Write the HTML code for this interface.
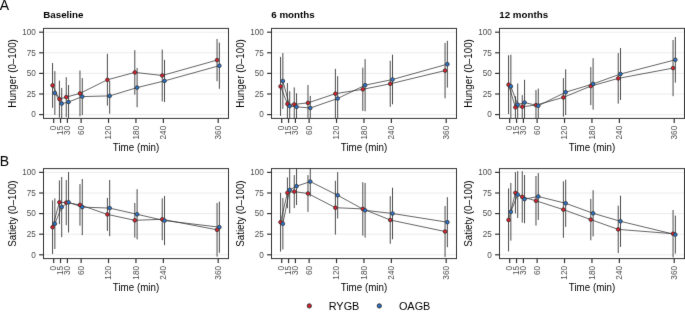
<!DOCTYPE html>
<html><head><meta charset="utf-8"><style>
html,body{margin:0;padding:0;background:#fff;}
body{width:685px;height:318px;overflow:hidden;}
svg{display:block;will-change:transform;font-family:"Liberation Sans",sans-serif;}
.yt{font-size:8.2px;fill:#4d4d4d;text-anchor:end;}
.xt{font-size:8.2px;fill:#4d4d4d;text-anchor:end;}
.at{font-size:9.8px;fill:#000;}
.tt{font-size:9.75px;font-weight:bold;fill:#000;}
.lg{font-size:10.9px;fill:#000;}
.tag{font-size:14px;fill:#000;}
</style></head><body>
<svg width="685" height="318" viewBox="0 0 685 318">
<defs><filter id="bl" x="0" y="0" width="1" height="1" color-interpolation-filters="sRGB"><feConvolveMatrix order="3" kernelMatrix="0.00524 0.06192 0.00524 0.06192 0.73137 0.06192 0.00524 0.06192 0.00524" divisor="1" edgeMode="duplicate"/></filter></defs>
<g filter="url(#bl)">
<rect width="685" height="318" fill="#fff"/>
<clipPath id="c00"><rect x="43.5" y="28.4" width="185" height="90"/></clipPath>
<line x1="43.5" x2="228.5" y1="114.6" y2="114.6" stroke="#ebebeb" stroke-width="1"/>
<line x1="43.5" x2="228.5" y1="94" y2="94" stroke="#ebebeb" stroke-width="1"/>
<line x1="43.5" x2="228.5" y1="73.4" y2="73.4" stroke="#ebebeb" stroke-width="1"/>
<line x1="43.5" x2="228.5" y1="52.8" y2="52.8" stroke="#ebebeb" stroke-width="1"/>
<line x1="43.5" x2="228.5" y1="32.2" y2="32.2" stroke="#ebebeb" stroke-width="1"/>
<g clip-path="url(#c00)">
<polyline points="52.55,85.4 59.4,99.1 66.26,97.1 79.97,93.4 107.38,79.8 134.8,72.4 162.22,75.5 217.05,60.1" fill="none" stroke="#333333" stroke-width="0.75"/>
<polyline points="54.85,93 61.7,103.6 68.56,102 82.27,96.6 109.68,95.9 137.1,87.6 164.52,80.9 219.35,65.7" fill="none" stroke="#333333" stroke-width="0.75"/>
<line x1="52.55" x2="52.55" y1="63" y2="107.8" stroke="#2b2b2b" stroke-width="0.85"/>
<line x1="59.4" x2="59.4" y1="80.6" y2="117.6" stroke="#2b2b2b" stroke-width="0.85"/>
<line x1="66.26" x2="66.26" y1="77.2" y2="117" stroke="#2b2b2b" stroke-width="0.85"/>
<line x1="79.97" x2="79.97" y1="70.5" y2="116.3" stroke="#2b2b2b" stroke-width="0.85"/>
<line x1="107.38" x2="107.38" y1="53.8" y2="105.7" stroke="#2b2b2b" stroke-width="0.85"/>
<line x1="134.8" x2="134.8" y1="50.2" y2="94.6" stroke="#2b2b2b" stroke-width="0.85"/>
<line x1="162.22" x2="162.22" y1="49.6" y2="101.4" stroke="#2b2b2b" stroke-width="0.85"/>
<line x1="217.05" x2="217.05" y1="39" y2="81.2" stroke="#2b2b2b" stroke-width="0.85"/>
<line x1="54.85" x2="54.85" y1="71.1" y2="114.9" stroke="#2b2b2b" stroke-width="0.85"/>
<line x1="61.7" x2="61.7" y1="87.9" y2="119.3" stroke="#2b2b2b" stroke-width="0.85"/>
<line x1="68.56" x2="68.56" y1="85" y2="119" stroke="#2b2b2b" stroke-width="0.85"/>
<line x1="82.27" x2="82.27" y1="78.1" y2="115.1" stroke="#2b2b2b" stroke-width="0.85"/>
<line x1="109.68" x2="109.68" y1="80.8" y2="113.7" stroke="#2b2b2b" stroke-width="0.85"/>
<line x1="137.1" x2="137.1" y1="68" y2="107.2" stroke="#2b2b2b" stroke-width="0.85"/>
<line x1="164.52" x2="164.52" y1="59.8" y2="102" stroke="#2b2b2b" stroke-width="0.85"/>
<line x1="219.35" x2="219.35" y1="42.6" y2="88.8" stroke="#2b2b2b" stroke-width="0.85"/>
<circle cx="52.55" cy="85.4" r="1.85" fill="#dc1e2b" stroke="#333333" stroke-width="0.8"/>
<circle cx="59.4" cy="99.1" r="1.85" fill="#dc1e2b" stroke="#333333" stroke-width="0.8"/>
<circle cx="66.26" cy="97.1" r="1.85" fill="#dc1e2b" stroke="#333333" stroke-width="0.8"/>
<circle cx="79.97" cy="93.4" r="1.85" fill="#dc1e2b" stroke="#333333" stroke-width="0.8"/>
<circle cx="107.38" cy="79.8" r="1.85" fill="#dc1e2b" stroke="#333333" stroke-width="0.8"/>
<circle cx="134.8" cy="72.4" r="1.85" fill="#dc1e2b" stroke="#333333" stroke-width="0.8"/>
<circle cx="162.22" cy="75.5" r="1.85" fill="#dc1e2b" stroke="#333333" stroke-width="0.8"/>
<circle cx="217.05" cy="60.1" r="1.85" fill="#dc1e2b" stroke="#333333" stroke-width="0.8"/>
<circle cx="54.85" cy="93" r="1.85" fill="#2b74cc" stroke="#333333" stroke-width="0.8"/>
<circle cx="61.7" cy="103.6" r="1.85" fill="#2b74cc" stroke="#333333" stroke-width="0.8"/>
<circle cx="68.56" cy="102" r="1.85" fill="#2b74cc" stroke="#333333" stroke-width="0.8"/>
<circle cx="82.27" cy="96.6" r="1.85" fill="#2b74cc" stroke="#333333" stroke-width="0.8"/>
<circle cx="109.68" cy="95.9" r="1.85" fill="#2b74cc" stroke="#333333" stroke-width="0.8"/>
<circle cx="137.1" cy="87.6" r="1.85" fill="#2b74cc" stroke="#333333" stroke-width="0.8"/>
<circle cx="164.52" cy="80.9" r="1.85" fill="#2b74cc" stroke="#333333" stroke-width="0.8"/>
<circle cx="219.35" cy="65.7" r="1.85" fill="#2b74cc" stroke="#333333" stroke-width="0.8"/>
</g>
<rect x="43.5" y="28.4" width="185" height="90" fill="none" stroke="#333333" stroke-width="1"/>
<line x1="39.1" x2="43.5" y1="114.6" y2="114.6" stroke="#333333" stroke-width="1.2"/>
<text transform="translate(35.9,117.45)" class="yt">0</text>
<line x1="39.1" x2="43.5" y1="94" y2="94" stroke="#333333" stroke-width="1.2"/>
<text transform="translate(35.9,96.85)" class="yt">25</text>
<line x1="39.1" x2="43.5" y1="73.4" y2="73.4" stroke="#333333" stroke-width="1.2"/>
<text transform="translate(35.9,76.25)" class="yt">50</text>
<line x1="39.1" x2="43.5" y1="52.8" y2="52.8" stroke="#333333" stroke-width="1.2"/>
<text transform="translate(35.9,55.65)" class="yt">75</text>
<line x1="39.1" x2="43.5" y1="32.2" y2="32.2" stroke="#333333" stroke-width="1.2"/>
<text transform="translate(35.9,35.05)" class="yt">100</text>
<line x1="53.7" x2="53.7" y1="118.4" y2="122.9" stroke="#333333" stroke-width="1.2"/>
<text transform="translate(56.3,125.8) rotate(-90)" class="xt">0</text>
<line x1="60.55" x2="60.55" y1="118.4" y2="122.9" stroke="#333333" stroke-width="1.2"/>
<text transform="translate(63.15,125.8) rotate(-90)" class="xt">15</text>
<line x1="67.41" x2="67.41" y1="118.4" y2="122.9" stroke="#333333" stroke-width="1.2"/>
<text transform="translate(70.01,125.8) rotate(-90)" class="xt">30</text>
<line x1="81.12" x2="81.12" y1="118.4" y2="122.9" stroke="#333333" stroke-width="1.2"/>
<text transform="translate(83.72,125.8) rotate(-90)" class="xt">60</text>
<line x1="108.53" x2="108.53" y1="118.4" y2="122.9" stroke="#333333" stroke-width="1.2"/>
<text transform="translate(111.13,125.8) rotate(-90)" class="xt">120</text>
<line x1="135.95" x2="135.95" y1="118.4" y2="122.9" stroke="#333333" stroke-width="1.2"/>
<text transform="translate(138.55,125.8) rotate(-90)" class="xt">180</text>
<line x1="163.37" x2="163.37" y1="118.4" y2="122.9" stroke="#333333" stroke-width="1.2"/>
<text transform="translate(165.97,125.8) rotate(-90)" class="xt">240</text>
<line x1="218.2" x2="218.2" y1="118.4" y2="122.9" stroke="#333333" stroke-width="1.2"/>
<text transform="translate(220.8,125.8) rotate(-90)" class="xt">360</text>
<text transform="translate(136,150.5) scale(1,1.04)" class="at" text-anchor="middle">Time (min)</text>
<text transform="translate(16,73.4) rotate(-90) scale(1,1.04)" class="at" text-anchor="middle">Hunger (0–100)</text>
<text transform="translate(43.3,17.8)" class="tt">Baseline</text>
<clipPath id="c01"><rect x="271.5" y="28.4" width="185" height="90"/></clipPath>
<line x1="271.5" x2="456.5" y1="114.6" y2="114.6" stroke="#ebebeb" stroke-width="1"/>
<line x1="271.5" x2="456.5" y1="94" y2="94" stroke="#ebebeb" stroke-width="1"/>
<line x1="271.5" x2="456.5" y1="73.4" y2="73.4" stroke="#ebebeb" stroke-width="1"/>
<line x1="271.5" x2="456.5" y1="52.8" y2="52.8" stroke="#ebebeb" stroke-width="1"/>
<line x1="271.5" x2="456.5" y1="32.2" y2="32.2" stroke="#ebebeb" stroke-width="1"/>
<g clip-path="url(#c01)">
<polyline points="280.55,86.4 287.4,103.9 294.26,104.4 307.97,102.9 335.38,93.7 362.8,89.3 390.22,83.8 445.05,70.6" fill="none" stroke="#333333" stroke-width="0.75"/>
<polyline points="282.85,81 289.7,106.1 296.56,106.8 310.27,108 337.68,98.5 365.1,85.2 392.52,79.5 447.35,64.2" fill="none" stroke="#333333" stroke-width="0.75"/>
<line x1="280.55" x2="280.55" y1="56.9" y2="115.9" stroke="#2b2b2b" stroke-width="0.85"/>
<line x1="287.4" x2="287.4" y1="83" y2="124.8" stroke="#2b2b2b" stroke-width="0.85"/>
<line x1="294.26" x2="294.26" y1="87.4" y2="121.4" stroke="#2b2b2b" stroke-width="0.85"/>
<line x1="307.97" x2="307.97" y1="85" y2="120.8" stroke="#2b2b2b" stroke-width="0.85"/>
<line x1="335.38" x2="335.38" y1="68.9" y2="118.5" stroke="#2b2b2b" stroke-width="0.85"/>
<line x1="362.8" x2="362.8" y1="67.7" y2="110.9" stroke="#2b2b2b" stroke-width="0.85"/>
<line x1="390.22" x2="390.22" y1="60.8" y2="106.8" stroke="#2b2b2b" stroke-width="0.85"/>
<line x1="445.05" x2="445.05" y1="42.9" y2="98.3" stroke="#2b2b2b" stroke-width="0.85"/>
<line x1="282.85" x2="282.85" y1="53.1" y2="108.9" stroke="#2b2b2b" stroke-width="0.85"/>
<line x1="289.7" x2="289.7" y1="91.2" y2="121" stroke="#2b2b2b" stroke-width="0.85"/>
<line x1="296.56" x2="296.56" y1="93.3" y2="120.3" stroke="#2b2b2b" stroke-width="0.85"/>
<line x1="310.27" x2="310.27" y1="95.9" y2="120.1" stroke="#2b2b2b" stroke-width="0.85"/>
<line x1="337.68" x2="337.68" y1="76.2" y2="120.8" stroke="#2b2b2b" stroke-width="0.85"/>
<line x1="365.1" x2="365.1" y1="59.1" y2="111.3" stroke="#2b2b2b" stroke-width="0.85"/>
<line x1="392.52" x2="392.52" y1="54.7" y2="104.3" stroke="#2b2b2b" stroke-width="0.85"/>
<line x1="447.35" x2="447.35" y1="40.8" y2="87.6" stroke="#2b2b2b" stroke-width="0.85"/>
<circle cx="280.55" cy="86.4" r="1.85" fill="#dc1e2b" stroke="#333333" stroke-width="0.8"/>
<circle cx="287.4" cy="103.9" r="1.85" fill="#dc1e2b" stroke="#333333" stroke-width="0.8"/>
<circle cx="294.26" cy="104.4" r="1.85" fill="#dc1e2b" stroke="#333333" stroke-width="0.8"/>
<circle cx="307.97" cy="102.9" r="1.85" fill="#dc1e2b" stroke="#333333" stroke-width="0.8"/>
<circle cx="335.38" cy="93.7" r="1.85" fill="#dc1e2b" stroke="#333333" stroke-width="0.8"/>
<circle cx="362.8" cy="89.3" r="1.85" fill="#dc1e2b" stroke="#333333" stroke-width="0.8"/>
<circle cx="390.22" cy="83.8" r="1.85" fill="#dc1e2b" stroke="#333333" stroke-width="0.8"/>
<circle cx="445.05" cy="70.6" r="1.85" fill="#dc1e2b" stroke="#333333" stroke-width="0.8"/>
<circle cx="282.85" cy="81" r="1.85" fill="#2b74cc" stroke="#333333" stroke-width="0.8"/>
<circle cx="289.7" cy="106.1" r="1.85" fill="#2b74cc" stroke="#333333" stroke-width="0.8"/>
<circle cx="296.56" cy="106.8" r="1.85" fill="#2b74cc" stroke="#333333" stroke-width="0.8"/>
<circle cx="310.27" cy="108" r="1.85" fill="#2b74cc" stroke="#333333" stroke-width="0.8"/>
<circle cx="337.68" cy="98.5" r="1.85" fill="#2b74cc" stroke="#333333" stroke-width="0.8"/>
<circle cx="365.1" cy="85.2" r="1.85" fill="#2b74cc" stroke="#333333" stroke-width="0.8"/>
<circle cx="392.52" cy="79.5" r="1.85" fill="#2b74cc" stroke="#333333" stroke-width="0.8"/>
<circle cx="447.35" cy="64.2" r="1.85" fill="#2b74cc" stroke="#333333" stroke-width="0.8"/>
</g>
<rect x="271.5" y="28.4" width="185" height="90" fill="none" stroke="#333333" stroke-width="1"/>
<line x1="267.1" x2="271.5" y1="114.6" y2="114.6" stroke="#333333" stroke-width="1.2"/>
<text transform="translate(263.9,117.45)" class="yt">0</text>
<line x1="267.1" x2="271.5" y1="94" y2="94" stroke="#333333" stroke-width="1.2"/>
<text transform="translate(263.9,96.85)" class="yt">25</text>
<line x1="267.1" x2="271.5" y1="73.4" y2="73.4" stroke="#333333" stroke-width="1.2"/>
<text transform="translate(263.9,76.25)" class="yt">50</text>
<line x1="267.1" x2="271.5" y1="52.8" y2="52.8" stroke="#333333" stroke-width="1.2"/>
<text transform="translate(263.9,55.65)" class="yt">75</text>
<line x1="267.1" x2="271.5" y1="32.2" y2="32.2" stroke="#333333" stroke-width="1.2"/>
<text transform="translate(263.9,35.05)" class="yt">100</text>
<line x1="281.7" x2="281.7" y1="118.4" y2="122.9" stroke="#333333" stroke-width="1.2"/>
<text transform="translate(284.3,125.8) rotate(-90)" class="xt">0</text>
<line x1="288.55" x2="288.55" y1="118.4" y2="122.9" stroke="#333333" stroke-width="1.2"/>
<text transform="translate(291.15,125.8) rotate(-90)" class="xt">15</text>
<line x1="295.41" x2="295.41" y1="118.4" y2="122.9" stroke="#333333" stroke-width="1.2"/>
<text transform="translate(298.01,125.8) rotate(-90)" class="xt">30</text>
<line x1="309.12" x2="309.12" y1="118.4" y2="122.9" stroke="#333333" stroke-width="1.2"/>
<text transform="translate(311.72,125.8) rotate(-90)" class="xt">60</text>
<line x1="336.53" x2="336.53" y1="118.4" y2="122.9" stroke="#333333" stroke-width="1.2"/>
<text transform="translate(339.13,125.8) rotate(-90)" class="xt">120</text>
<line x1="363.95" x2="363.95" y1="118.4" y2="122.9" stroke="#333333" stroke-width="1.2"/>
<text transform="translate(366.55,125.8) rotate(-90)" class="xt">180</text>
<line x1="391.37" x2="391.37" y1="118.4" y2="122.9" stroke="#333333" stroke-width="1.2"/>
<text transform="translate(393.97,125.8) rotate(-90)" class="xt">240</text>
<line x1="446.2" x2="446.2" y1="118.4" y2="122.9" stroke="#333333" stroke-width="1.2"/>
<text transform="translate(448.8,125.8) rotate(-90)" class="xt">360</text>
<text transform="translate(364,150.5) scale(1,1.04)" class="at" text-anchor="middle">Time (min)</text>
<text transform="translate(244,73.4) rotate(-90) scale(1,1.04)" class="at" text-anchor="middle">Hunger (0–100)</text>
<text transform="translate(271.3,17.8)" class="tt">6 months</text>
<clipPath id="c02"><rect x="499.5" y="28.4" width="185" height="90"/></clipPath>
<line x1="499.5" x2="684.5" y1="114.6" y2="114.6" stroke="#ebebeb" stroke-width="1"/>
<line x1="499.5" x2="684.5" y1="94" y2="94" stroke="#ebebeb" stroke-width="1"/>
<line x1="499.5" x2="684.5" y1="73.4" y2="73.4" stroke="#ebebeb" stroke-width="1"/>
<line x1="499.5" x2="684.5" y1="52.8" y2="52.8" stroke="#ebebeb" stroke-width="1"/>
<line x1="499.5" x2="684.5" y1="32.2" y2="32.2" stroke="#ebebeb" stroke-width="1"/>
<g clip-path="url(#c02)">
<polyline points="508.55,84.7 515.4,107.3 522.26,106.7 535.97,105.1 563.38,97.4 590.8,86.1 618.22,78.4 673.05,68.1" fill="none" stroke="#333333" stroke-width="0.75"/>
<polyline points="510.85,86.4 517.7,104.7 524.56,102.5 538.27,105.8 565.68,92.2 593.1,83.9 620.52,74 675.35,59.8" fill="none" stroke="#333333" stroke-width="0.75"/>
<line x1="508.55" x2="508.55" y1="55.3" y2="114.1" stroke="#2b2b2b" stroke-width="0.85"/>
<line x1="515.4" x2="515.4" y1="96.2" y2="118.4" stroke="#2b2b2b" stroke-width="0.85"/>
<line x1="522.26" x2="522.26" y1="95.2" y2="118.2" stroke="#2b2b2b" stroke-width="0.85"/>
<line x1="535.97" x2="535.97" y1="90.1" y2="120.1" stroke="#2b2b2b" stroke-width="0.85"/>
<line x1="563.38" x2="563.38" y1="78.1" y2="116.7" stroke="#2b2b2b" stroke-width="0.85"/>
<line x1="590.8" x2="590.8" y1="67.1" y2="105.1" stroke="#2b2b2b" stroke-width="0.85"/>
<line x1="618.22" x2="618.22" y1="53.1" y2="103.7" stroke="#2b2b2b" stroke-width="0.85"/>
<line x1="673.05" x2="673.05" y1="40" y2="96.2" stroke="#2b2b2b" stroke-width="0.85"/>
<line x1="510.85" x2="510.85" y1="54.7" y2="118.1" stroke="#2b2b2b" stroke-width="0.85"/>
<line x1="517.7" x2="517.7" y1="83.5" y2="125.9" stroke="#2b2b2b" stroke-width="0.85"/>
<line x1="524.56" x2="524.56" y1="79.8" y2="125.2" stroke="#2b2b2b" stroke-width="0.85"/>
<line x1="538.27" x2="538.27" y1="88.6" y2="123" stroke="#2b2b2b" stroke-width="0.85"/>
<line x1="565.68" x2="565.68" y1="69.3" y2="115.1" stroke="#2b2b2b" stroke-width="0.85"/>
<line x1="593.1" x2="593.1" y1="58.2" y2="109.6" stroke="#2b2b2b" stroke-width="0.85"/>
<line x1="620.52" x2="620.52" y1="48" y2="100" stroke="#2b2b2b" stroke-width="0.85"/>
<line x1="675.35" x2="675.35" y1="37" y2="82.6" stroke="#2b2b2b" stroke-width="0.85"/>
<circle cx="508.55" cy="84.7" r="1.85" fill="#dc1e2b" stroke="#333333" stroke-width="0.8"/>
<circle cx="515.4" cy="107.3" r="1.85" fill="#dc1e2b" stroke="#333333" stroke-width="0.8"/>
<circle cx="522.26" cy="106.7" r="1.85" fill="#dc1e2b" stroke="#333333" stroke-width="0.8"/>
<circle cx="535.97" cy="105.1" r="1.85" fill="#dc1e2b" stroke="#333333" stroke-width="0.8"/>
<circle cx="563.38" cy="97.4" r="1.85" fill="#dc1e2b" stroke="#333333" stroke-width="0.8"/>
<circle cx="590.8" cy="86.1" r="1.85" fill="#dc1e2b" stroke="#333333" stroke-width="0.8"/>
<circle cx="618.22" cy="78.4" r="1.85" fill="#dc1e2b" stroke="#333333" stroke-width="0.8"/>
<circle cx="673.05" cy="68.1" r="1.85" fill="#dc1e2b" stroke="#333333" stroke-width="0.8"/>
<circle cx="510.85" cy="86.4" r="1.85" fill="#2b74cc" stroke="#333333" stroke-width="0.8"/>
<circle cx="517.7" cy="104.7" r="1.85" fill="#2b74cc" stroke="#333333" stroke-width="0.8"/>
<circle cx="524.56" cy="102.5" r="1.85" fill="#2b74cc" stroke="#333333" stroke-width="0.8"/>
<circle cx="538.27" cy="105.8" r="1.85" fill="#2b74cc" stroke="#333333" stroke-width="0.8"/>
<circle cx="565.68" cy="92.2" r="1.85" fill="#2b74cc" stroke="#333333" stroke-width="0.8"/>
<circle cx="593.1" cy="83.9" r="1.85" fill="#2b74cc" stroke="#333333" stroke-width="0.8"/>
<circle cx="620.52" cy="74" r="1.85" fill="#2b74cc" stroke="#333333" stroke-width="0.8"/>
<circle cx="675.35" cy="59.8" r="1.85" fill="#2b74cc" stroke="#333333" stroke-width="0.8"/>
</g>
<rect x="499.5" y="28.4" width="185" height="90" fill="none" stroke="#333333" stroke-width="1"/>
<line x1="495.1" x2="499.5" y1="114.6" y2="114.6" stroke="#333333" stroke-width="1.2"/>
<text transform="translate(491.9,117.45)" class="yt">0</text>
<line x1="495.1" x2="499.5" y1="94" y2="94" stroke="#333333" stroke-width="1.2"/>
<text transform="translate(491.9,96.85)" class="yt">25</text>
<line x1="495.1" x2="499.5" y1="73.4" y2="73.4" stroke="#333333" stroke-width="1.2"/>
<text transform="translate(491.9,76.25)" class="yt">50</text>
<line x1="495.1" x2="499.5" y1="52.8" y2="52.8" stroke="#333333" stroke-width="1.2"/>
<text transform="translate(491.9,55.65)" class="yt">75</text>
<line x1="495.1" x2="499.5" y1="32.2" y2="32.2" stroke="#333333" stroke-width="1.2"/>
<text transform="translate(491.9,35.05)" class="yt">100</text>
<line x1="509.7" x2="509.7" y1="118.4" y2="122.9" stroke="#333333" stroke-width="1.2"/>
<text transform="translate(512.3,125.8) rotate(-90)" class="xt">0</text>
<line x1="516.55" x2="516.55" y1="118.4" y2="122.9" stroke="#333333" stroke-width="1.2"/>
<text transform="translate(519.15,125.8) rotate(-90)" class="xt">15</text>
<line x1="523.41" x2="523.41" y1="118.4" y2="122.9" stroke="#333333" stroke-width="1.2"/>
<text transform="translate(526.01,125.8) rotate(-90)" class="xt">30</text>
<line x1="537.12" x2="537.12" y1="118.4" y2="122.9" stroke="#333333" stroke-width="1.2"/>
<text transform="translate(539.72,125.8) rotate(-90)" class="xt">60</text>
<line x1="564.53" x2="564.53" y1="118.4" y2="122.9" stroke="#333333" stroke-width="1.2"/>
<text transform="translate(567.13,125.8) rotate(-90)" class="xt">120</text>
<line x1="591.95" x2="591.95" y1="118.4" y2="122.9" stroke="#333333" stroke-width="1.2"/>
<text transform="translate(594.55,125.8) rotate(-90)" class="xt">180</text>
<line x1="619.37" x2="619.37" y1="118.4" y2="122.9" stroke="#333333" stroke-width="1.2"/>
<text transform="translate(621.97,125.8) rotate(-90)" class="xt">240</text>
<line x1="674.2" x2="674.2" y1="118.4" y2="122.9" stroke="#333333" stroke-width="1.2"/>
<text transform="translate(676.8,125.8) rotate(-90)" class="xt">360</text>
<text transform="translate(592,150.5) scale(1,1.04)" class="at" text-anchor="middle">Time (min)</text>
<text transform="translate(472,73.4) rotate(-90) scale(1,1.04)" class="at" text-anchor="middle">Hunger (0–100)</text>
<text transform="translate(499.3,17.8)" class="tt">12 months</text>
<clipPath id="c10"><rect x="43.5" y="168.6" width="185" height="90"/></clipPath>
<line x1="43.5" x2="228.5" y1="254.8" y2="254.8" stroke="#ebebeb" stroke-width="1"/>
<line x1="43.5" x2="228.5" y1="234.2" y2="234.2" stroke="#ebebeb" stroke-width="1"/>
<line x1="43.5" x2="228.5" y1="213.6" y2="213.6" stroke="#ebebeb" stroke-width="1"/>
<line x1="43.5" x2="228.5" y1="193" y2="193" stroke="#ebebeb" stroke-width="1"/>
<line x1="43.5" x2="228.5" y1="172.4" y2="172.4" stroke="#ebebeb" stroke-width="1"/>
<g clip-path="url(#c10)">
<polyline points="52.55,227.2 59.4,202.3 66.26,202.6 79.97,204.9 107.38,214.4 134.8,220.3 162.22,219.3 217.05,229.8" fill="none" stroke="#333333" stroke-width="0.75"/>
<polyline points="54.85,223.7 61.7,207.1 68.56,202.3 82.27,207.1 109.68,208.1 137.1,214.3 164.52,220.6 219.35,227.2" fill="none" stroke="#333333" stroke-width="0.75"/>
<line x1="52.55" x2="52.55" y1="200.4" y2="254" stroke="#2b2b2b" stroke-width="0.85"/>
<line x1="59.4" x2="59.4" y1="180.4" y2="224.2" stroke="#2b2b2b" stroke-width="0.85"/>
<line x1="66.26" x2="66.26" y1="180" y2="225.2" stroke="#2b2b2b" stroke-width="0.85"/>
<line x1="79.97" x2="79.97" y1="184.1" y2="225.7" stroke="#2b2b2b" stroke-width="0.85"/>
<line x1="107.38" x2="107.38" y1="197.9" y2="230.9" stroke="#2b2b2b" stroke-width="0.85"/>
<line x1="134.8" x2="134.8" y1="203" y2="237.6" stroke="#2b2b2b" stroke-width="0.85"/>
<line x1="162.22" x2="162.22" y1="198.4" y2="240.2" stroke="#2b2b2b" stroke-width="0.85"/>
<line x1="217.05" x2="217.05" y1="203" y2="256.6" stroke="#2b2b2b" stroke-width="0.85"/>
<line x1="54.85" x2="54.85" y1="198.4" y2="249" stroke="#2b2b2b" stroke-width="0.85"/>
<line x1="61.7" x2="61.7" y1="177" y2="237.2" stroke="#2b2b2b" stroke-width="0.85"/>
<line x1="68.56" x2="68.56" y1="172.1" y2="232.5" stroke="#2b2b2b" stroke-width="0.85"/>
<line x1="82.27" x2="82.27" y1="179" y2="235.2" stroke="#2b2b2b" stroke-width="0.85"/>
<line x1="109.68" x2="109.68" y1="180" y2="236.2" stroke="#2b2b2b" stroke-width="0.85"/>
<line x1="137.1" x2="137.1" y1="189.2" y2="239.4" stroke="#2b2b2b" stroke-width="0.85"/>
<line x1="164.52" x2="164.52" y1="196" y2="245.2" stroke="#2b2b2b" stroke-width="0.85"/>
<line x1="219.35" x2="219.35" y1="201.6" y2="252.8" stroke="#2b2b2b" stroke-width="0.85"/>
<circle cx="52.55" cy="227.2" r="1.85" fill="#dc1e2b" stroke="#333333" stroke-width="0.8"/>
<circle cx="59.4" cy="202.3" r="1.85" fill="#dc1e2b" stroke="#333333" stroke-width="0.8"/>
<circle cx="66.26" cy="202.6" r="1.85" fill="#dc1e2b" stroke="#333333" stroke-width="0.8"/>
<circle cx="79.97" cy="204.9" r="1.85" fill="#dc1e2b" stroke="#333333" stroke-width="0.8"/>
<circle cx="107.38" cy="214.4" r="1.85" fill="#dc1e2b" stroke="#333333" stroke-width="0.8"/>
<circle cx="134.8" cy="220.3" r="1.85" fill="#dc1e2b" stroke="#333333" stroke-width="0.8"/>
<circle cx="162.22" cy="219.3" r="1.85" fill="#dc1e2b" stroke="#333333" stroke-width="0.8"/>
<circle cx="217.05" cy="229.8" r="1.85" fill="#dc1e2b" stroke="#333333" stroke-width="0.8"/>
<circle cx="54.85" cy="223.7" r="1.85" fill="#2b74cc" stroke="#333333" stroke-width="0.8"/>
<circle cx="61.7" cy="207.1" r="1.85" fill="#2b74cc" stroke="#333333" stroke-width="0.8"/>
<circle cx="68.56" cy="202.3" r="1.85" fill="#2b74cc" stroke="#333333" stroke-width="0.8"/>
<circle cx="82.27" cy="207.1" r="1.85" fill="#2b74cc" stroke="#333333" stroke-width="0.8"/>
<circle cx="109.68" cy="208.1" r="1.85" fill="#2b74cc" stroke="#333333" stroke-width="0.8"/>
<circle cx="137.1" cy="214.3" r="1.85" fill="#2b74cc" stroke="#333333" stroke-width="0.8"/>
<circle cx="164.52" cy="220.6" r="1.85" fill="#2b74cc" stroke="#333333" stroke-width="0.8"/>
<circle cx="219.35" cy="227.2" r="1.85" fill="#2b74cc" stroke="#333333" stroke-width="0.8"/>
</g>
<rect x="43.5" y="168.6" width="185" height="90" fill="none" stroke="#333333" stroke-width="1"/>
<line x1="39.1" x2="43.5" y1="254.8" y2="254.8" stroke="#333333" stroke-width="1.2"/>
<text transform="translate(35.9,257.65)" class="yt">0</text>
<line x1="39.1" x2="43.5" y1="234.2" y2="234.2" stroke="#333333" stroke-width="1.2"/>
<text transform="translate(35.9,237.05)" class="yt">25</text>
<line x1="39.1" x2="43.5" y1="213.6" y2="213.6" stroke="#333333" stroke-width="1.2"/>
<text transform="translate(35.9,216.45)" class="yt">50</text>
<line x1="39.1" x2="43.5" y1="193" y2="193" stroke="#333333" stroke-width="1.2"/>
<text transform="translate(35.9,195.85)" class="yt">75</text>
<line x1="39.1" x2="43.5" y1="172.4" y2="172.4" stroke="#333333" stroke-width="1.2"/>
<text transform="translate(35.9,175.25)" class="yt">100</text>
<line x1="53.7" x2="53.7" y1="258.6" y2="263.1" stroke="#333333" stroke-width="1.2"/>
<text transform="translate(56.3,266) rotate(-90)" class="xt">0</text>
<line x1="60.55" x2="60.55" y1="258.6" y2="263.1" stroke="#333333" stroke-width="1.2"/>
<text transform="translate(63.15,266) rotate(-90)" class="xt">15</text>
<line x1="67.41" x2="67.41" y1="258.6" y2="263.1" stroke="#333333" stroke-width="1.2"/>
<text transform="translate(70.01,266) rotate(-90)" class="xt">30</text>
<line x1="81.12" x2="81.12" y1="258.6" y2="263.1" stroke="#333333" stroke-width="1.2"/>
<text transform="translate(83.72,266) rotate(-90)" class="xt">60</text>
<line x1="108.53" x2="108.53" y1="258.6" y2="263.1" stroke="#333333" stroke-width="1.2"/>
<text transform="translate(111.13,266) rotate(-90)" class="xt">120</text>
<line x1="135.95" x2="135.95" y1="258.6" y2="263.1" stroke="#333333" stroke-width="1.2"/>
<text transform="translate(138.55,266) rotate(-90)" class="xt">180</text>
<line x1="163.37" x2="163.37" y1="258.6" y2="263.1" stroke="#333333" stroke-width="1.2"/>
<text transform="translate(165.97,266) rotate(-90)" class="xt">240</text>
<line x1="218.2" x2="218.2" y1="258.6" y2="263.1" stroke="#333333" stroke-width="1.2"/>
<text transform="translate(220.8,266) rotate(-90)" class="xt">360</text>
<text transform="translate(136,291.2) scale(1,1.04)" class="at" text-anchor="middle">Time (min)</text>
<text transform="translate(16,213.6) rotate(-90) scale(1,1.04)" class="at" text-anchor="middle">Satiety (0–100)</text>
<clipPath id="c11"><rect x="271.5" y="168.6" width="185" height="90"/></clipPath>
<line x1="271.5" x2="456.5" y1="254.8" y2="254.8" stroke="#ebebeb" stroke-width="1"/>
<line x1="271.5" x2="456.5" y1="234.2" y2="234.2" stroke="#ebebeb" stroke-width="1"/>
<line x1="271.5" x2="456.5" y1="213.6" y2="213.6" stroke="#ebebeb" stroke-width="1"/>
<line x1="271.5" x2="456.5" y1="193" y2="193" stroke="#ebebeb" stroke-width="1"/>
<line x1="271.5" x2="456.5" y1="172.4" y2="172.4" stroke="#ebebeb" stroke-width="1"/>
<g clip-path="url(#c11)">
<polyline points="280.55,222.2 287.4,192.8 294.26,191.6 307.97,193.5 335.38,207.7 362.8,208.9 390.22,220 445.05,231.5" fill="none" stroke="#333333" stroke-width="0.75"/>
<polyline points="282.85,223.7 289.7,189.9 296.56,186.2 310.27,181.6 337.68,195.3 365.1,210.3 392.52,213.5 447.35,222.2" fill="none" stroke="#333333" stroke-width="0.75"/>
<line x1="280.55" x2="280.55" y1="192.8" y2="251.6" stroke="#2b2b2b" stroke-width="0.85"/>
<line x1="287.4" x2="287.4" y1="177.4" y2="208.2" stroke="#2b2b2b" stroke-width="0.85"/>
<line x1="294.26" x2="294.26" y1="175.1" y2="208.1" stroke="#2b2b2b" stroke-width="0.85"/>
<line x1="307.97" x2="307.97" y1="175.1" y2="211.9" stroke="#2b2b2b" stroke-width="0.85"/>
<line x1="335.38" x2="335.38" y1="180.8" y2="234.6" stroke="#2b2b2b" stroke-width="0.85"/>
<line x1="362.8" x2="362.8" y1="182.2" y2="235.6" stroke="#2b2b2b" stroke-width="0.85"/>
<line x1="390.22" x2="390.22" y1="196.2" y2="243.8" stroke="#2b2b2b" stroke-width="0.85"/>
<line x1="445.05" x2="445.05" y1="206" y2="257" stroke="#2b2b2b" stroke-width="0.85"/>
<line x1="282.85" x2="282.85" y1="197.9" y2="249.5" stroke="#2b2b2b" stroke-width="0.85"/>
<line x1="289.7" x2="289.7" y1="166.5" y2="213.3" stroke="#2b2b2b" stroke-width="0.85"/>
<line x1="296.56" x2="296.56" y1="167.4" y2="205" stroke="#2b2b2b" stroke-width="0.85"/>
<line x1="310.27" x2="310.27" y1="166.6" y2="196.6" stroke="#2b2b2b" stroke-width="0.85"/>
<line x1="337.68" x2="337.68" y1="172.1" y2="218.5" stroke="#2b2b2b" stroke-width="0.85"/>
<line x1="365.1" x2="365.1" y1="183" y2="237.6" stroke="#2b2b2b" stroke-width="0.85"/>
<line x1="392.52" x2="392.52" y1="187.7" y2="239.3" stroke="#2b2b2b" stroke-width="0.85"/>
<line x1="447.35" x2="447.35" y1="197.2" y2="247.2" stroke="#2b2b2b" stroke-width="0.85"/>
<circle cx="280.55" cy="222.2" r="1.85" fill="#dc1e2b" stroke="#333333" stroke-width="0.8"/>
<circle cx="287.4" cy="192.8" r="1.85" fill="#dc1e2b" stroke="#333333" stroke-width="0.8"/>
<circle cx="294.26" cy="191.6" r="1.85" fill="#dc1e2b" stroke="#333333" stroke-width="0.8"/>
<circle cx="307.97" cy="193.5" r="1.85" fill="#dc1e2b" stroke="#333333" stroke-width="0.8"/>
<circle cx="335.38" cy="207.7" r="1.85" fill="#dc1e2b" stroke="#333333" stroke-width="0.8"/>
<circle cx="362.8" cy="208.9" r="1.85" fill="#dc1e2b" stroke="#333333" stroke-width="0.8"/>
<circle cx="390.22" cy="220" r="1.85" fill="#dc1e2b" stroke="#333333" stroke-width="0.8"/>
<circle cx="445.05" cy="231.5" r="1.85" fill="#dc1e2b" stroke="#333333" stroke-width="0.8"/>
<circle cx="282.85" cy="223.7" r="1.85" fill="#2b74cc" stroke="#333333" stroke-width="0.8"/>
<circle cx="289.7" cy="189.9" r="1.85" fill="#2b74cc" stroke="#333333" stroke-width="0.8"/>
<circle cx="296.56" cy="186.2" r="1.85" fill="#2b74cc" stroke="#333333" stroke-width="0.8"/>
<circle cx="310.27" cy="181.6" r="1.85" fill="#2b74cc" stroke="#333333" stroke-width="0.8"/>
<circle cx="337.68" cy="195.3" r="1.85" fill="#2b74cc" stroke="#333333" stroke-width="0.8"/>
<circle cx="365.1" cy="210.3" r="1.85" fill="#2b74cc" stroke="#333333" stroke-width="0.8"/>
<circle cx="392.52" cy="213.5" r="1.85" fill="#2b74cc" stroke="#333333" stroke-width="0.8"/>
<circle cx="447.35" cy="222.2" r="1.85" fill="#2b74cc" stroke="#333333" stroke-width="0.8"/>
</g>
<rect x="271.5" y="168.6" width="185" height="90" fill="none" stroke="#333333" stroke-width="1"/>
<line x1="267.1" x2="271.5" y1="254.8" y2="254.8" stroke="#333333" stroke-width="1.2"/>
<text transform="translate(263.9,257.65)" class="yt">0</text>
<line x1="267.1" x2="271.5" y1="234.2" y2="234.2" stroke="#333333" stroke-width="1.2"/>
<text transform="translate(263.9,237.05)" class="yt">25</text>
<line x1="267.1" x2="271.5" y1="213.6" y2="213.6" stroke="#333333" stroke-width="1.2"/>
<text transform="translate(263.9,216.45)" class="yt">50</text>
<line x1="267.1" x2="271.5" y1="193" y2="193" stroke="#333333" stroke-width="1.2"/>
<text transform="translate(263.9,195.85)" class="yt">75</text>
<line x1="267.1" x2="271.5" y1="172.4" y2="172.4" stroke="#333333" stroke-width="1.2"/>
<text transform="translate(263.9,175.25)" class="yt">100</text>
<line x1="281.7" x2="281.7" y1="258.6" y2="263.1" stroke="#333333" stroke-width="1.2"/>
<text transform="translate(284.3,266) rotate(-90)" class="xt">0</text>
<line x1="288.55" x2="288.55" y1="258.6" y2="263.1" stroke="#333333" stroke-width="1.2"/>
<text transform="translate(291.15,266) rotate(-90)" class="xt">15</text>
<line x1="295.41" x2="295.41" y1="258.6" y2="263.1" stroke="#333333" stroke-width="1.2"/>
<text transform="translate(298.01,266) rotate(-90)" class="xt">30</text>
<line x1="309.12" x2="309.12" y1="258.6" y2="263.1" stroke="#333333" stroke-width="1.2"/>
<text transform="translate(311.72,266) rotate(-90)" class="xt">60</text>
<line x1="336.53" x2="336.53" y1="258.6" y2="263.1" stroke="#333333" stroke-width="1.2"/>
<text transform="translate(339.13,266) rotate(-90)" class="xt">120</text>
<line x1="363.95" x2="363.95" y1="258.6" y2="263.1" stroke="#333333" stroke-width="1.2"/>
<text transform="translate(366.55,266) rotate(-90)" class="xt">180</text>
<line x1="391.37" x2="391.37" y1="258.6" y2="263.1" stroke="#333333" stroke-width="1.2"/>
<text transform="translate(393.97,266) rotate(-90)" class="xt">240</text>
<line x1="446.2" x2="446.2" y1="258.6" y2="263.1" stroke="#333333" stroke-width="1.2"/>
<text transform="translate(448.8,266) rotate(-90)" class="xt">360</text>
<text transform="translate(364,291.2) scale(1,1.04)" class="at" text-anchor="middle">Time (min)</text>
<text transform="translate(244,213.6) rotate(-90) scale(1,1.04)" class="at" text-anchor="middle">Satiety (0–100)</text>
<clipPath id="c12"><rect x="499.5" y="168.6" width="185" height="90"/></clipPath>
<line x1="499.5" x2="684.5" y1="254.8" y2="254.8" stroke="#ebebeb" stroke-width="1"/>
<line x1="499.5" x2="684.5" y1="234.2" y2="234.2" stroke="#ebebeb" stroke-width="1"/>
<line x1="499.5" x2="684.5" y1="213.6" y2="213.6" stroke="#ebebeb" stroke-width="1"/>
<line x1="499.5" x2="684.5" y1="193" y2="193" stroke="#ebebeb" stroke-width="1"/>
<line x1="499.5" x2="684.5" y1="172.4" y2="172.4" stroke="#ebebeb" stroke-width="1"/>
<g clip-path="url(#c12)">
<polyline points="508.55,219.9 515.4,192.8 522.26,196.9 535.97,200.8 563.38,209.6 590.8,219.6 618.22,229.4 673.05,233.7" fill="none" stroke="#333333" stroke-width="0.75"/>
<polyline points="510.85,211.8 517.7,194.6 524.56,199.1 538.27,196.5 565.68,203.3 593.1,213.3 620.52,221.3 675.35,234.6" fill="none" stroke="#333333" stroke-width="0.75"/>
<line x1="508.55" x2="508.55" y1="188.4" y2="251.4" stroke="#2b2b2b" stroke-width="0.85"/>
<line x1="515.4" x2="515.4" y1="172.1" y2="213.5" stroke="#2b2b2b" stroke-width="0.85"/>
<line x1="522.26" x2="522.26" y1="171.2" y2="222.6" stroke="#2b2b2b" stroke-width="0.85"/>
<line x1="535.97" x2="535.97" y1="176" y2="225.6" stroke="#2b2b2b" stroke-width="0.85"/>
<line x1="563.38" x2="563.38" y1="181.4" y2="237.8" stroke="#2b2b2b" stroke-width="0.85"/>
<line x1="590.8" x2="590.8" y1="198.9" y2="240.3" stroke="#2b2b2b" stroke-width="0.85"/>
<line x1="618.22" x2="618.22" y1="205.7" y2="253.1" stroke="#2b2b2b" stroke-width="0.85"/>
<line x1="673.05" x2="673.05" y1="210" y2="257.4" stroke="#2b2b2b" stroke-width="0.85"/>
<line x1="510.85" x2="510.85" y1="183" y2="240.6" stroke="#2b2b2b" stroke-width="0.85"/>
<line x1="517.7" x2="517.7" y1="171.2" y2="218" stroke="#2b2b2b" stroke-width="0.85"/>
<line x1="524.56" x2="524.56" y1="175" y2="223.2" stroke="#2b2b2b" stroke-width="0.85"/>
<line x1="538.27" x2="538.27" y1="173.1" y2="219.9" stroke="#2b2b2b" stroke-width="0.85"/>
<line x1="565.68" x2="565.68" y1="179.7" y2="226.9" stroke="#2b2b2b" stroke-width="0.85"/>
<line x1="593.1" x2="593.1" y1="190.2" y2="236.4" stroke="#2b2b2b" stroke-width="0.85"/>
<line x1="620.52" x2="620.52" y1="195.7" y2="246.9" stroke="#2b2b2b" stroke-width="0.85"/>
<line x1="675.35" x2="675.35" y1="215.6" y2="253.6" stroke="#2b2b2b" stroke-width="0.85"/>
<circle cx="508.55" cy="219.9" r="1.85" fill="#dc1e2b" stroke="#333333" stroke-width="0.8"/>
<circle cx="515.4" cy="192.8" r="1.85" fill="#dc1e2b" stroke="#333333" stroke-width="0.8"/>
<circle cx="522.26" cy="196.9" r="1.85" fill="#dc1e2b" stroke="#333333" stroke-width="0.8"/>
<circle cx="535.97" cy="200.8" r="1.85" fill="#dc1e2b" stroke="#333333" stroke-width="0.8"/>
<circle cx="563.38" cy="209.6" r="1.85" fill="#dc1e2b" stroke="#333333" stroke-width="0.8"/>
<circle cx="590.8" cy="219.6" r="1.85" fill="#dc1e2b" stroke="#333333" stroke-width="0.8"/>
<circle cx="618.22" cy="229.4" r="1.85" fill="#dc1e2b" stroke="#333333" stroke-width="0.8"/>
<circle cx="673.05" cy="233.7" r="1.85" fill="#dc1e2b" stroke="#333333" stroke-width="0.8"/>
<circle cx="510.85" cy="211.8" r="1.85" fill="#2b74cc" stroke="#333333" stroke-width="0.8"/>
<circle cx="517.7" cy="194.6" r="1.85" fill="#2b74cc" stroke="#333333" stroke-width="0.8"/>
<circle cx="524.56" cy="199.1" r="1.85" fill="#2b74cc" stroke="#333333" stroke-width="0.8"/>
<circle cx="538.27" cy="196.5" r="1.85" fill="#2b74cc" stroke="#333333" stroke-width="0.8"/>
<circle cx="565.68" cy="203.3" r="1.85" fill="#2b74cc" stroke="#333333" stroke-width="0.8"/>
<circle cx="593.1" cy="213.3" r="1.85" fill="#2b74cc" stroke="#333333" stroke-width="0.8"/>
<circle cx="620.52" cy="221.3" r="1.85" fill="#2b74cc" stroke="#333333" stroke-width="0.8"/>
<circle cx="675.35" cy="234.6" r="1.85" fill="#2b74cc" stroke="#333333" stroke-width="0.8"/>
</g>
<rect x="499.5" y="168.6" width="185" height="90" fill="none" stroke="#333333" stroke-width="1"/>
<line x1="495.1" x2="499.5" y1="254.8" y2="254.8" stroke="#333333" stroke-width="1.2"/>
<text transform="translate(491.9,257.65)" class="yt">0</text>
<line x1="495.1" x2="499.5" y1="234.2" y2="234.2" stroke="#333333" stroke-width="1.2"/>
<text transform="translate(491.9,237.05)" class="yt">25</text>
<line x1="495.1" x2="499.5" y1="213.6" y2="213.6" stroke="#333333" stroke-width="1.2"/>
<text transform="translate(491.9,216.45)" class="yt">50</text>
<line x1="495.1" x2="499.5" y1="193" y2="193" stroke="#333333" stroke-width="1.2"/>
<text transform="translate(491.9,195.85)" class="yt">75</text>
<line x1="495.1" x2="499.5" y1="172.4" y2="172.4" stroke="#333333" stroke-width="1.2"/>
<text transform="translate(491.9,175.25)" class="yt">100</text>
<line x1="509.7" x2="509.7" y1="258.6" y2="263.1" stroke="#333333" stroke-width="1.2"/>
<text transform="translate(512.3,266) rotate(-90)" class="xt">0</text>
<line x1="516.55" x2="516.55" y1="258.6" y2="263.1" stroke="#333333" stroke-width="1.2"/>
<text transform="translate(519.15,266) rotate(-90)" class="xt">15</text>
<line x1="523.41" x2="523.41" y1="258.6" y2="263.1" stroke="#333333" stroke-width="1.2"/>
<text transform="translate(526.01,266) rotate(-90)" class="xt">30</text>
<line x1="537.12" x2="537.12" y1="258.6" y2="263.1" stroke="#333333" stroke-width="1.2"/>
<text transform="translate(539.72,266) rotate(-90)" class="xt">60</text>
<line x1="564.53" x2="564.53" y1="258.6" y2="263.1" stroke="#333333" stroke-width="1.2"/>
<text transform="translate(567.13,266) rotate(-90)" class="xt">120</text>
<line x1="591.95" x2="591.95" y1="258.6" y2="263.1" stroke="#333333" stroke-width="1.2"/>
<text transform="translate(594.55,266) rotate(-90)" class="xt">180</text>
<line x1="619.37" x2="619.37" y1="258.6" y2="263.1" stroke="#333333" stroke-width="1.2"/>
<text transform="translate(621.97,266) rotate(-90)" class="xt">240</text>
<line x1="674.2" x2="674.2" y1="258.6" y2="263.1" stroke="#333333" stroke-width="1.2"/>
<text transform="translate(676.8,266) rotate(-90)" class="xt">360</text>
<text transform="translate(592,291.2) scale(1,1.04)" class="at" text-anchor="middle">Time (min)</text>
<text transform="translate(472,213.6) rotate(-90) scale(1,1.04)" class="at" text-anchor="middle">Satiety (0–100)</text>
<circle cx="309.3" cy="305.9" r="2.1" fill="#dc1e2b" stroke="#333333" stroke-width="1"/>
<text transform="translate(328.7,309.8) scale(1,1.04)" class="lg">RYGB</text>
<circle cx="379.3" cy="305.9" r="2.1" fill="#2b74cc" stroke="#333333" stroke-width="1"/>
<text transform="translate(398.9,309.8) scale(1,1.04)" class="lg">OAGB</text>
<text transform="translate(-0.3,9.5) scale(1,1.04)" class="tag">A</text>
<text transform="translate(-0.3,166.3) scale(1,1.04)" class="tag">B</text>
</g>
</svg>
</body></html>
